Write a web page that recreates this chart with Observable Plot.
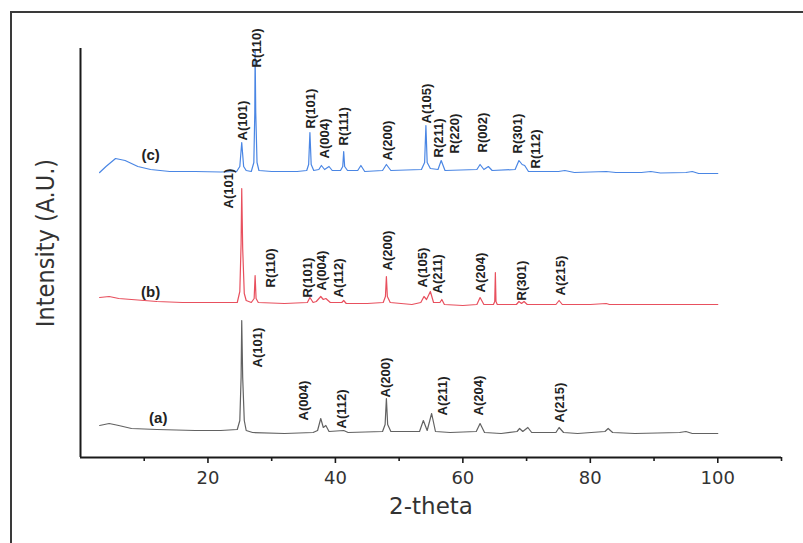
<!DOCTYPE html>
<html><head><meta charset="utf-8">
<script src="https://cdn.jsdelivr.net/npm/d3@7"></script>
<script src="https://cdn.jsdelivr.net/npm/@observablehq/plot@0.6"></script>
<style>
html,body{margin:0;padding:0;background:#fff;}
#wrap{position:relative;width:803px;height:543px;overflow:hidden;background:#fff;}
#frame{position:absolute;left:10px;top:11px;width:800px;height:540px;border-left:2.5px solid #3a3a3a;border-top:2.5px solid #3a3a3a;}
#chart{position:absolute;left:0;top:0;}
</style></head><body>
<div id="wrap"><div id="frame"></div><div id="chart"></div></div>
<script>
// ---------- data ----------
const seriesNames = ["(a)", "(b)", "(c)"];
const offsets = [25, 154, 285];            // vertical stacking offsets (a.u.)
const nameTheta = [12.2, 11.0, 11.0];
const nameY = [39, 165, 302];

// (a) gray pattern
const aTheta = [3,4.5,6,8,12,18,22,24.6,25.0,25.2,25.3,25.45,25.7,26.0,27,32,36.5,37.2,37.7,38.1,38.5,39,41.3,42,47.4,47.8,48.0,48.2,48.7,53.2,53.8,54.4,55.1,55.7,58,62.1,62.7,63.4,66,68.5,68.9,69.4,70.2,70.8,74.6,75.1,75.8,78,82.3,82.8,83.5,87,94,95,96,100];
const aInt   = [7,9,7,4,3,2,2,3,12,55,112,55,12,2,0,-1,0,2,14,5,7,1,2,0,1,8,34,8,1,1,12,2,19,1,0,1,9,0,-1,1,4,1,5,0,0,5,0,-1,1,4,0,-1,0,1,-1,-1];

// (b) red pattern
const bTheta = [3,4.5,6,8,12,16,20,24.6,25.0,25.2,25.3,25.45,25.7,26.0,26.8,27.25,27.4,27.55,27.9,32,35.6,36.0,36.5,37.0,37.7,38.1,38.5,39.2,41.0,41.3,41.7,45,47.5,47.85,48.0,48.15,48.6,52,53.4,53.9,54.3,54.9,55.4,56.4,56.7,57.1,60,62.2,62.7,63.3,64.8,65.0,65.1,65.2,65.4,68.4,68.8,69.2,69.6,70.1,74.6,75.1,75.6,80,82.5,83,90,100];
const bInt   = [6,7,5,4,2,1,1,1,12,60,115,55,10,3,1,5,28,5,1,0,1,6,1,2,7,4,5,1,1,3,0,0,1,7,27,7,1,-1,1,7,4,12,1,1,4,-1,-2,-1,6,-1,-1,2,31,2,-1,-1,2,0,2,-1,-1,3,-1,-1,0,-1,-1,-1];

// (c) blue pattern
const cTheta = [3,4,5.5,7,9,11,14,18,22,24.5,25.0,25.3,25.6,26,26.8,27.2,27.35,27.4,27.5,27.7,28,30,34,35.5,35.8,36.0,36.2,36.6,37.4,37.8,38.3,39,39.5,40.8,41.15,41.3,41.45,41.9,43.5,44.0,44.6,47.4,48.0,48.7,53.5,54.0,54.2,54.4,54.9,56.1,56.6,57.2,62.2,62.7,63.3,64.0,64.6,68.2,68.8,69.3,69.7,70.3,73,75,76,77.5,80,82.5,84,88,89.5,91,95,96,97,100];
const cInt   = [0,6,14,12,6,3,1,1,0.5,1,6,30,6,2,1,10,60,122,60,10,2,1,1,2,8,40,8,2,3,7,3,6,2,2,6,21,6,2,2,7,1,2,8,2,3,10,47,10,4,3,12,2,3,8,3,6,2,3,12,8,7,1,1,1,2,0,0.5,1,0,0,1,-0.5,0,1,-1,-1];

// peak annotations: text, 2-theta, baseline position of the rotated label (a.u.)
const aLabText  = ["A(101)","A(004)","A(112)","A(200)","A(211)","A(204)","A(215)"];
const aLabTheta = [27.9, 35.0, 41.0, 47.9, 56.8, 62.5, 75.2];
const aLabY     = [90, 37, 29, 60, 42, 42, 35];

const bLabText  = ["A(101)","R(110)","R(101)","A(004)","A(112)","A(200)","A(105)","A(211)","A(204)","R(301)","A(215)"];
const bLabTheta = [23.2, 29.8, 35.6, 37.8, 40.5, 48.2, 53.7, 56.0, 62.8, 69.2, 75.3];
const bLabY     = [249, 170, 160, 167, 160, 187, 170, 164, 165, 157, 162];

const cLabText  = ["A(101)","R(110)","R(101)","A(004)","R(111)","A(200)","A(105)","R(211)","R(220)","R(002)","R(301)","R(112)"];
const cLabTheta = [25.4, 27.6, 36.1, 38.4, 41.3, 48.3, 54.4, 56.2, 58.7, 63.1, 68.7, 71.4];
const cLabY     = [317, 390, 329, 299, 312, 297, 334, 300, 304, 305, 304, 289];

const majorTicks = [20, 40, 60, 80, 100];
const minorTicks = [10, 30, 50, 70, 90, 110];
const xLabel = "2-theta";
const yLabel = "Intensity (A.U.)";

// ---------- build tables ----------
function trace(theta, inten, k) {
  return theta.map((t, i) => ({theta: t, y: inten[i] + offsets[k]}));
}
function labels(text, theta, y) {
  return text.map((s, i) => ({text: s, theta: theta[i], y: y[i]}));
}
const traceA = trace(aTheta, aInt, 0);
const traceB = trace(bTheta, bInt, 1);
const traceC = trace(cTheta, cInt, 2);
const labs = [...labels(aLabText, aLabTheta, aLabY), ...labels(bLabText, bLabTheta, bLabY), ...labels(cLabText, cLabTheta, cLabY)];
const names = seriesNames.map((s, i) => ({text: s, theta: nameTheta[i], y: nameY[i]}));

const plot = Plot.plot({
  width: 803,
  height: 543,
  marginLeft: 80,
  marginRight: 22,
  marginTop: 48,
  marginBottom: 86,
  style: {fontFamily: "'Liberation Sans', Arial, sans-serif", background: "transparent", overflow: "visible"},
  x: {domain: [0, 110]},
  y: {domain: [0, 409], axis: null},
  marks: [
    Plot.ruleX([0], {stroke: "#1a1a1a", strokeWidth: 2}),
    Plot.ruleY([0], {stroke: "#1a1a1a", strokeWidth: 2}),
    Plot.axisX({ticks: majorTicks, tickSize: 6, tickPadding: 8, strokeWidth: 1.6, stroke: "#1a1a1a",
                fontSize: 18, fill: "#333", label: null, fontFamily: "'DejaVu Sans', sans-serif"}),
    Plot.axisX({ticks: minorTicks, tickSize: 4, tickFormat: () => "", strokeWidth: 1.6, stroke: "#1a1a1a", label: null}),
    Plot.line(traceA, {x: "theta", y: "y", stroke: "#626262", strokeWidth: 1.2}),
    Plot.line(traceB, {x: "theta", y: "y", stroke: "#e8505e", strokeWidth: 1.2}),
    Plot.line(traceC, {x: "theta", y: "y", stroke: "#4a86e4", strokeWidth: 1.2}),
    Plot.text(labs, {x: "theta", y: "y", text: "text", rotate: -90, textAnchor: "start",
                     fontSize: 13, fontWeight: "bold", fill: "#222"}),
    Plot.text(names, {x: "theta", y: "y", text: "text", fontSize: 15, fontWeight: "bold", fill: "#222"}),
    Plot.text([xLabel], {frameAnchor: "bottom", dy: 56, fontSize: 23, fill: "#333",
                         fontFamily: "'DejaVu Sans', sans-serif"}),
    Plot.text([yLabel], {frameAnchor: "left", textAnchor: "middle", dx: -35, dy: -10, rotate: -90, fontSize: 25, fill: "#333",
                         fontFamily: "'DejaVu Sans Condensed', 'DejaVu Sans', sans-serif"})
  ]
});
document.getElementById("chart").appendChild(plot);
</script>
</body></html>
